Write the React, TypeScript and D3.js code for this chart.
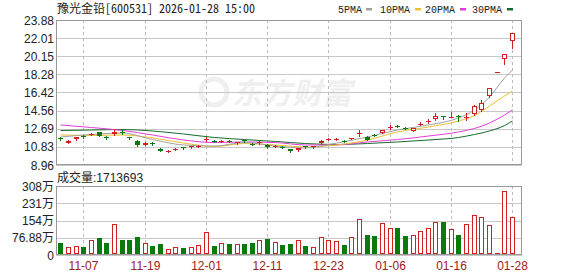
import React from "react";
import * as d3 from "d3";

const dates = [
  "11-04","11-05","11-06","11-07","11-10","11-11","11-12","11-13","11-14","11-17","11-18","11-19","11-20","11-21","11-24","11-25","11-26","11-27","11-28",
  "12-01","12-02","12-03","12-04","12-05","12-08","12-09","12-10","12-11","12-12","12-15","12-16","12-17","12-18","12-19","12-22","12-23","12-24","12-25","12-26","12-29","12-30","12-31",
  "01-05","01-06","01-07","01-08","01-09","01-12","01-13","01-14","01-15","01-16","01-19","01-20","01-21","01-22","01-23","01-26","01-27","01-28",
];
const opens = [11.75,11.25,11.6,11.95,12.05,12.35,11.85,12.1,12.35,11.8,11.45,11.05,11.2,10.65,10.38,10.55,10.8,10.8,10.85,
  11.5,11.45,11.42,11.45,11.2,11.5,11.12,11.22,11.05,10.88,10.82,10.6,10.5,10.88,10.82,11.2,11.58,11.6,11.42,11.65,12.2,11.82,12.08,
  12.28,12.82,13.0,12.78,12.46,13.15,13.4,13.66,13.98,13.9,14.05,13.88,14.21,14.62,16.06,18.5,19.87,21.75];
const closes = [11.6,11.45,11.8,11.85,12.2,11.95,11.8,12.4,12.3,11.7,11.0,11.25,11.12,10.4,10.45,10.62,10.72,10.88,10.95,
  11.62,11.38,11.48,11.38,11.3,11.45,11.08,11.28,10.8,10.92,10.75,10.35,10.7,10.82,10.88,11.45,11.62,11.64,11.38,11.7,12.25,11.55,12.02,
  12.56,12.86,12.94,12.72,12.74,13.2,13.45,13.99,13.9,13.95,13.88,13.92,15.03,15.31,16.85,18.5,20.4,22.5];
const highs = [11.85,11.5,11.85,12.0,12.3,12.4,11.95,12.7,12.55,11.85,11.5,11.3,11.3,10.7,10.55,10.75,10.85,10.95,11.0,
  11.85,11.5,11.55,11.5,11.35,11.55,11.2,11.45,11.1,11.0,10.9,10.65,10.75,10.95,10.95,11.55,11.75,11.72,11.5,11.75,12.55,11.9,12.2,
  12.6,13.05,13.1,12.9,12.8,13.4,13.7,14.34,14.05,14.4,14.1,14.3,15.1,15.65,16.9,18.5,20.4,22.55];
const lows = [11.5,11.2,11.55,11.75,12.0,11.9,11.6,12.05,12.1,11.6,10.95,11.0,11.05,10.35,10.3,10.5,10.65,10.75,10.8,
  11.4,11.3,11.35,11.3,11.15,11.35,11.0,11.15,10.75,10.85,10.7,10.3,10.45,10.75,10.75,11.15,11.5,11.52,11.32,11.6,11.95,11.5,11.95,
  12.25,12.7,12.85,12.65,12.42,13.05,13.3,13.6,13.7,13.85,13.45,13.55,14.15,14.55,16.0,18.5,19.32,20.97];
// volume in 万
const volumes = [55,34,40,34,67,76,55,138,67,67,80,55,40,49,28,34,31,34,45,
  103,40,52,49,49,49,52,67,71,58,45,49,65,40,37,82,67,64,43,82,159,88,85,
  141,119,119,85,88,107,119,146,147,115,88,137,177,168,132,7,284,171.37];

const maIdx = [0,4,8,12,16,20,24,28,32,36,40,44,48,52,54,56,58,59];
const ma30 = [12.51,12.56,12.61,12.46,12.15,11.79,11.58,11.38,11.17,11.07,11.17,11.33,11.53,11.79,12.10,12.46,13.02,13.49];
const ma20 = [13.08,12.82,12.51,12.05,11.53,11.27,11.33,11.27,11.02,11.02,11.33,11.58,11.94,12.36,12.72,13.28,14.10,14.62];
const ma10 = [12.05,12.00,12.05,11.74,11.22,10.86,11.17,11.02,10.81,11.02,11.53,12.36,12.87,13.49,14.05,15.03,16.06,16.57];
const ma5Idx = [0,4,8,12,16,20,24,28,32,36,40,44,48,52,54,56,57,58,59];
const ma5 = [11.84,12.10,12.25,11.58,11.02,10.91,11.27,10.91,10.71,11.22,11.84,12.56,13.08,13.80,14.62,15.96,16.99,17.91,18.73];

const priceTicks = [23.88,22.01,20.15,18.28,16.42,14.56,12.69,10.83,8.96];
const volTicks = [307.52,230.64,153.76,76.88,0];
const volTickLabels = ["308万","231万","154万","76.88万","0"];
const xTickDates = ["11-07","11-19","12-01","12-11","12-23","01-06","01-16","01-28"];

const legend = [
  { name: "5PMA", color: "#a0a0a0" },
  { name: "10PMA", color: "#f0c030" },
  { name: "20PMA", color: "#e040d8" },
  { name: "30PMA", color: "#176b2c" },
];

const RED = "#d02020";
const GREEN = "#0a7a0a";

export default function App() {
  const L = 56, R = 522, pTop = 20, pBot = 165, vTop = 186, vBot = 255;
  const x = d3.scaleBand<string>().domain(dates).range([L, 517.5]).padding(0.3);
  const yP = d3.scaleLinear().domain([8.96, 23.88]).range([pBot, pTop]);
  const yV = d3.scaleLinear().domain([0, 307.52]).range([vBot, vTop]);
  const cx = (i: number) => Math.round((x(dates[i]) as number) + x.bandwidth() / 2 - 0.5);

  const mkLine = (idx: number[], vals: number[]) =>
    d3.line<number>().x((_, k) => cx(idx[k]) + 0.5).y((v) => yP(v)).curve(d3.curveMonotoneX)(vals) || "";

  const cjk = "'Noto Sans Mono CJK SC','Noto Sans CJK SC',monospace";
  const sans = "'Liberation Sans','Noto Sans CJK SC',Arial,sans-serif";

  const legendX = [338, 380, 425, 472];

  return (
    <div style={{ position: "absolute", left: 0, top: 0 }}>
      <svg width={578} height={276} style={{ display: "block", background: "#fff" }}>
        {/* watermark */}
        <g opacity={0.13} fill="#888">
          <circle cx={214} cy={92} r={13} fill="none" stroke="#888" strokeWidth={5} />
          <text x={232} y={104} fontSize={30} fontWeight="bold" fontStyle="italic" fontFamily="'Noto Sans CJK SC'">东方财富</text>
        </g>
        {/* title */}
        <text x={57} y={13} fontSize={12} fill="#222" fontFamily={cjk}>豫光金铅[600531] 2026-01-28 15:00</text>
        {legend.map((d, k) => (
          <g key={d.name}>
            <text x={legendX[k]} y={13} fontSize={10} fill="#222" fontFamily="'Liberation Mono',monospace">{d.name}</text>
            <rect x={legendX[k] + (d.name.length === 4 ? 28 : 35)} y={8} width={6} height={2.5} fill={d.color} />
          </g>
        ))}
        {/* grid */}
        <g shapeRendering="crispEdges">
          {priceTicks.map((t) => (
            <line key={t} x1={L} x2={R} y1={Math.round(yP(t)) + 0.5} y2={Math.round(yP(t)) + 0.5} stroke="#c8c8c8" />
          ))}
          {volTicks.map((t) => (
            <line key={t} x1={L} x2={R} y1={Math.round(yV(t)) + 0.5} y2={Math.round(yV(t)) + 0.5} stroke="#c8c8c8" />
          ))}
          {xTickDates.map((d) => {
            const xx = cx(dates.indexOf(d)) + 0.5;
            return (
              <g key={d}>
                <line x1={xx} x2={xx} y1={pTop} y2={pBot} stroke="#bbb" strokeDasharray="3,3" />
                <line x1={xx} x2={xx} y1={vTop} y2={vBot} stroke="#bbb" strokeDasharray="3,3" />
              </g>
            );
          })}
          <rect x={L + 0.5} y={pTop + 0.5} width={R - L - 1} height={pBot - pTop - 1} fill="none" stroke="#999" />
          <rect x={L + 0.5} y={vTop + 0.5} width={R - L - 1} height={vBot - vTop - 1} fill="none" stroke="#999" />
        </g>
        {/* y labels */}
        {priceTicks.map((t) => (
          <text key={t} x={54} y={yP(t) + 4.5} textAnchor="end" fontSize={12} fill="#222" fontFamily={sans}>{t.toFixed(2)}</text>
        ))}
        {volTicks.map((t, k) => (
          <text key={t} x={54} y={yV(t) + 4.5} textAnchor="end" fontSize={12} fill="#222" fontFamily={sans}>{volTickLabels[k]}</text>
        ))}
        <text x={57} y={182} fontSize={12} fill="#222" fontFamily={sans}>成交量:1713693</text>
        {xTickDates.map((d) => (
          <text key={d} x={cx(dates.indexOf(d)) + 0.5} y={270} textAnchor="middle" fontSize={12} fill="#a02020" fontFamily={sans}>{d}</text>
        ))}
        {/* MA lines */}
        <g fill="none" strokeWidth={1}>
          <path d={mkLine(maIdx, ma30)} stroke="#176b2c" />
          <path d={mkLine(maIdx, ma20)} stroke="#e040d8" />
          <path d={mkLine(maIdx, ma10)} stroke="#f0c030" />
          <path d={mkLine(ma5Idx, ma5)} stroke="#a0a0a0" />
        </g>
        {/* candles */}
        <g shapeRendering="crispEdges">
          {dates.map((d, i) => {
            const X = cx(i);
            const up = closes[i] >= opens[i];
            const col = up ? RED : GREEN;
            const top = Math.round(yP(Math.max(opens[i], closes[i])));
            const bot = Math.round(yP(Math.min(opens[i], closes[i])));
            const hy = Math.round(yP(highs[i]));
            const ly = Math.round(yP(lows[i]));
            const h = bot - top;
            return (
              <g key={d}>
                <line x1={X + 0.5} x2={X + 0.5} y1={hy} y2={ly + 1} stroke={col} />
                {up ? (
                  h >= 2 ? (
                    <rect x={X - 1.5} y={top + 0.5} width={4} height={h - 1} fill="#fff" stroke={col} />
                  ) : (
                    <rect x={X - 2} y={top} width={5} height={1} fill={col} />
                  )
                ) : (
                  <rect x={X - 2} y={top} width={5} height={Math.max(1, h)} fill={col} />
                )}
              </g>
            );
          })}
        </g>
        {/* volume bars */}
        <g shapeRendering="crispEdges">
          {dates.map((d, i) => {
            const X = cx(i);
            const up = closes[i] >= opens[i];
            const y = Math.round(yV(volumes[i]));
            const h = vBot - 1 - y;
            return up ? (
              h >= 3 ? (
                <rect key={d} x={X - 1.5} y={y + 0.5} width={4} height={h - 1} fill="#fff" stroke={RED} />
              ) : (
                <rect key={d} x={X - 2} y={y} width={5} height={Math.max(1, h)} fill={RED} />
              )
            ) : (
              <rect key={d} x={X - 2} y={y} width={5} height={h} fill={GREEN} />
            );
          })}
        </g>
      </svg>
    </div>
  );
}
